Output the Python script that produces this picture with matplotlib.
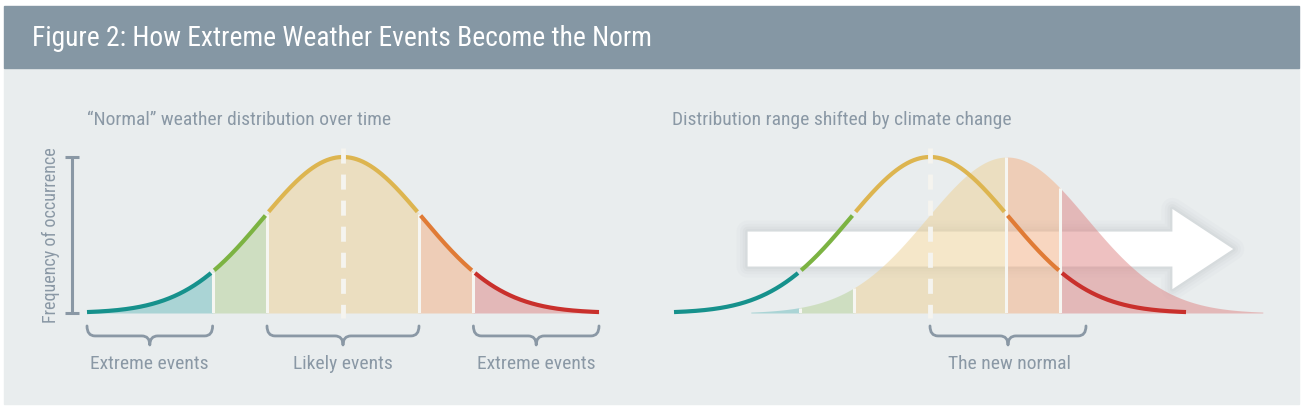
import numpy as np
import matplotlib
matplotlib.use("Agg")
import matplotlib.pyplot as plt
from matplotlib import font_manager
from matplotlib.patches import Rectangle, Polygon, PathPatch
from matplotlib.path import Path

# ---- chart content ----
title = "Figure 2: How Extreme Weather Events Become the Norm"
left_subtitle = "\u201cNormal\u201d weather distribution over time"
right_subtitle = "Distribution range shifted by climate change"
y_label = "Frequency of occurrence"

# distribution in standard deviations
curve_extent = 3.2
inner_edges = [-1.63, -0.95, 0.95, 1.63]
band_line_colors = ["#16918c", "#7cb342", "#ddb550", "#e07b36", "#c9302c"]
band_fill_colors = ["#6dbdbe", "#b5d196", "#edd194", "#f3af82", "#df8584"]
shift = 0.96

left_brace_ranges = [(-3.2, -1.63), (-0.95, 0.95), (1.63, 3.2)]
left_brace_labels = ["Extreme events", "Likely events", "Extreme events"]
right_brace_range = (0.0, 1.95)
right_brace_label = "The new normal"

# ---- style ----
panel_bg = "#e9edee"
header_bg = "#8597a4"
text_grey = "#8a98a5"


def pick_font(names):
    for n in names:
        try:
            font_manager.findfont(n, fallback_to_default=False)
            return n
        except ValueError:
            continue
    return "DejaVu Sans"


font = pick_font(["Liberation Sans Narrow", "Roboto Condensed", "Roboto", "DejaVu Sans"])
plt.rcParams["font.family"] = [font, "DejaVu Sans"]


def bell(x, mu=0.0):
    return np.exp(-0.5 * (x - mu) ** 2)


def draw_brace(ax, x0, x1, y_top=-0.083, y_mid=-0.147, y_tip=-0.205, r=0.1):
    xc = (x0 + x1) / 2
    verts = [(x0, y_top), (x0, y_mid), (x0 + r, y_mid),
             (xc - r, y_mid),
             (xc, y_mid), (xc, y_tip),
             (xc, y_mid), (xc + r, y_mid),
             (x1 - r, y_mid),
             (x1, y_mid), (x1, y_top)]
    codes = [Path.MOVETO, Path.CURVE3, Path.CURVE3,
             Path.LINETO,
             Path.CURVE3, Path.CURVE3,
             Path.CURVE3, Path.CURVE3,
             Path.LINETO,
             Path.CURVE3, Path.CURVE3]
    ax.add_patch(PathPatch(Path(verts, codes), facecolor="none", edgecolor=text_grey,
                           lw=2.0, clip_on=False, capstyle="round", joinstyle="round"))


def band_limits(lo, hi):
    edges = [lo] + inner_edges + [hi]
    out = []
    for a, b in zip(edges[:-1], edges[1:]):
        a, b = max(a, lo), min(b, hi)
        out.append((a, b))
    return out


def draw_fill(ax, mu):
    lo, hi = mu - curve_extent, mu + curve_extent
    for (a, b), c in zip(band_limits(lo, hi), band_fill_colors):
        if b <= a:
            continue
        xs = np.linspace(a, b, 200)
        ax.fill_between(xs, 0, bell(xs, mu), color=c, alpha=0.5, lw=0, zorder=2)
    for e in inner_edges:
        if lo < e < hi:
            ax.plot([e, e], [0, bell(e, mu)], color="#f6f6f2", lw=2.2, zorder=2.5,
                    solid_capstyle="butt")


def draw_curve(ax, mu=0.0, gap=0.02):
    lo, hi = mu - curve_extent, mu + curve_extent
    for (a, b), c in zip(band_limits(lo, hi), band_line_colors):
        if a > lo:
            a += gap
        if b < hi:
            b -= gap
        xs = np.linspace(a, b, 200)
        ax.plot(xs, bell(xs, mu), color=c, lw=3, zorder=3, solid_capstyle="butt",
                clip_on=False)


def draw_mean_line(ax, x):
    ax.plot([x, x], [1.06, -0.03], color="#f5f4ef", lw=3.5, dashes=(3.1, 2.26),
            zorder=4, clip_on=False)


W, H = 1306, 411
fig = plt.figure(figsize=(W / 100, H / 100), dpi=100, facecolor="white")

# background panel and header band
fig.patches.append(Rectangle((4 / W, 1 - 404 / H), 1295 / W, 336 / H,
                             transform=fig.transFigure, color=panel_bg, zorder=-2))
fig.patches.append(Rectangle((4 / W, 1 - 68 / H), 1295 / W, 62 / H,
                             transform=fig.transFigure, color=header_bg, zorder=-2))
fig.text(32 / W, 1 - 38 / H, title, color="white", fontsize=19.8, va="center", ha="left")

sig_px = 80
ax_bottom = 1 - 313 / H
ax_height = 156 / H

# ---- left panel ----
axl = fig.add_axes([87 / W, ax_bottom, 2 * curve_extent * sig_px / W, ax_height])
axl.set_xlim(-curve_extent, curve_extent)
axl.set_ylim(0, 1)
axl.axis("off")

draw_fill(axl, 0.0)
draw_curve(axl, 0.0)
draw_mean_line(axl, 0.0)

# y-axis bracket
yb_x = -3.39
axl.plot([yb_x, yb_x], [0, 1.0], color=text_grey, lw=2.2, clip_on=False,
         solid_capstyle="butt")
for yy in (0, 1.0):
    axl.plot([yb_x - 0.085, yb_x + 0.085], [yy, yy], color=text_grey, lw=2.2,
             clip_on=False, solid_capstyle="butt")
axl.text(-3.65, 0.5, y_label, rotation=90, ha="center", va="center",
         color=text_grey, fontsize=13)

axl.text(-curve_extent, 1.237, left_subtitle, ha="left", va="center",
         color=text_grey, fontsize=14)

for (a, b), lab in zip(left_brace_ranges, left_brace_labels):
    draw_brace(axl, a, b)
    axl.text((a + b) / 2, -0.327, lab, ha="center", va="center", color=text_grey,
             fontsize=14)

# ---- right panel ----
right_hi = curve_extent + shift + 0.04
axr = fig.add_axes([674 / W, ax_bottom, (curve_extent + right_hi) * sig_px / W, ax_height])
axr.set_xlim(-curve_extent, right_hi)
axr.set_ylim(0, 1)
axr.axis("off")

# white arrow with soft shadow
ax0, axb, axt = -2.28, 3.03, 3.79
yc, sh, hh = 0.41, 0.112, 0.257
arrow_pts = [(ax0, yc - sh), (axb, yc - sh), (axb, yc - hh), (axt, yc),
             (axb, yc + hh), (axb, yc + sh), (ax0, yc + sh)]
for lw, al in [(16, 0.03), (11, 0.04), (7, 0.05), (3.5, 0.06)]:
    axr.add_patch(Polygon(arrow_pts, closed=True, facecolor="none", edgecolor="#7f8c96",
                          lw=lw, alpha=al, joinstyle="round", zorder=1, clip_on=False))
axr.add_patch(Polygon(arrow_pts, closed=True, facecolor="white", edgecolor="none",
                      zorder=1.5, clip_on=False))

draw_fill(axr, shift)
draw_curve(axr, 0.0)
draw_mean_line(axr, 0.0)

axr.text(-curve_extent - 0.025, 1.237, right_subtitle, ha="left", va="center",
         color=text_grey, fontsize=14)
draw_brace(axr, *right_brace_range)
axr.text(sum(right_brace_range) / 2 + 0.02, -0.327, right_brace_label, ha="center",
         va="center", color=text_grey, fontsize=14)

fig.savefig("out.png", dpi=100, facecolor="white")
